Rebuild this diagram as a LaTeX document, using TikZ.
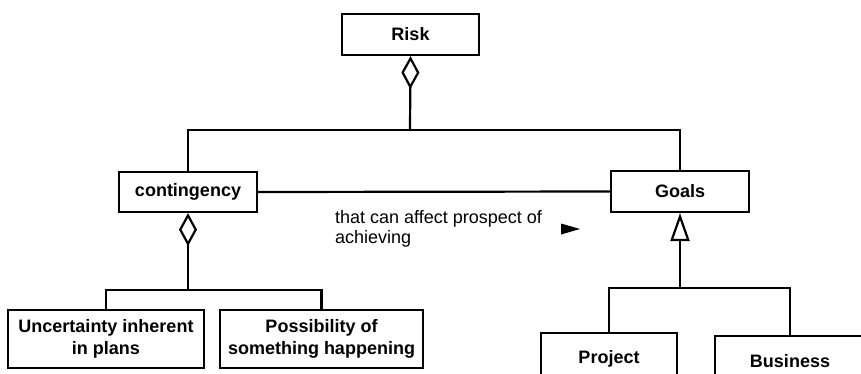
\documentclass[tikz,border=0pt]{standalone}
\usepackage{fontspec}
\setmainfont{Liberation Sans}
\usetikzlibrary{arrows.meta}
\begin{document}
\begin{tikzpicture}[x=1pt,y=-1pt,
  box/.style={draw,line width=2.2pt,font=\fontsize{18}{22}\selectfont\bfseries,align=center,inner sep=0pt},
  conn/.style={line width=2.2pt},
  agg/.style={conn,{Diamond[open,length=33pt,width=18pt,line width=2.2pt]}-},
  gen/.style={conn,{Triangle[open,length=28pt,width=19pt,line width=2.2pt]}-}]
\useasboundingbox (0,0) rectangle (861,374);
\clip (0,0) rectangle (861,374);
\node[box,minimum width=137pt,minimum height=41pt] (risk) at (410.5,34.5) {Risk};
\node[box,minimum width=138pt,minimum height=40pt] (cont) at (188,192) {contingency};
\node[box,minimum width=138pt,minimum height=41pt] (goals) at (680,191.5) {Goals};
\node[box,minimum width=196pt,minimum height=58pt] (unc) at (106,339) {Uncertainty inherent\\in plans};
\node[box,minimum width=203pt,minimum height=58pt] (poss) at (321.5,339) {Possibility of\\something happening};
\node[box,anchor=north,minimum width=136pt,minimum height=52pt] (proj) at (609,332) {Project};
\node[box,anchor=north,minimum width=150pt,minimum height=50pt] (bus) at (790,335) {Business};
\coordinate (j1) at (410,130);
\coordinate (j2) at (188,290);
\coordinate (j3) at (680,288);
\draw[agg] (risk.south) -- (j1);
\draw[conn] (cont.north) |- (j1) -| (goals.north);
\draw[conn] (cont.east) -- (goals.west);
\draw[agg] (cont.south) -- (j2);
\draw[conn] (unc.north) |- (j2) -| (poss.north);
\draw[gen] (goals.south) -- (j3);
\draw[conn] (proj.north) |- (j3) -| (bus.north);
\node[anchor=north west,align=left,inner sep=0pt,font=\fontsize{18}{20}\selectfont] (lbl) at (335,210) {that can affect prospect of\\achieving};
\fill (561,223.5) -- (580,229) -- (561,234.5) -- cycle;
\end{tikzpicture}
\end{document}
